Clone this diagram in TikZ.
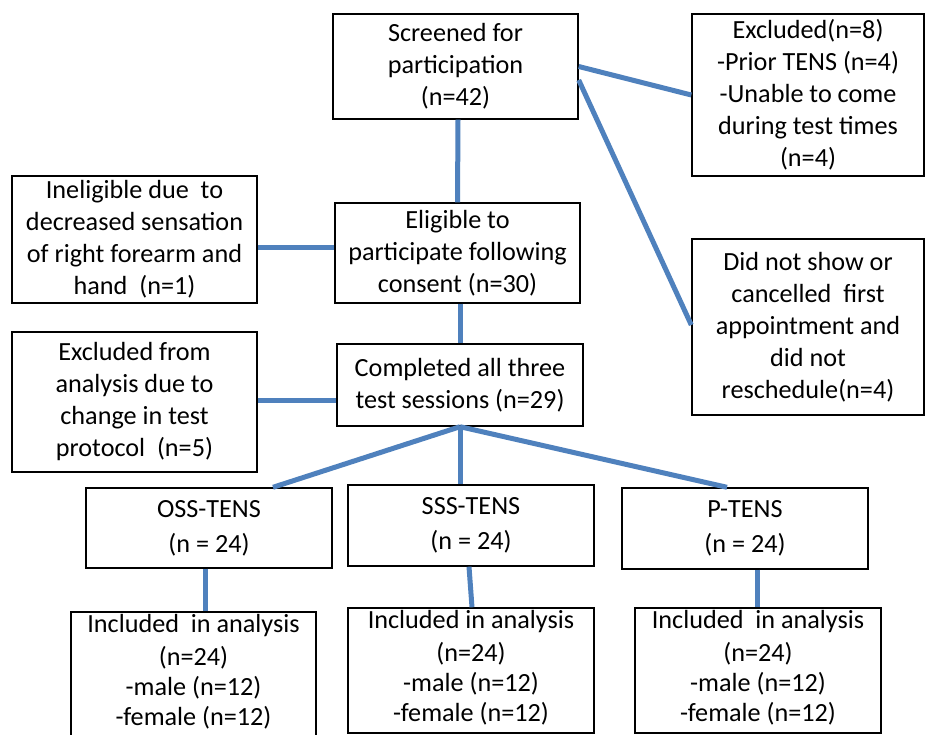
\documentclass[tikz,border=0pt]{standalone}
\usepackage{fontspec}
\setmainfont{Carlito}
\usetikzlibrary{calc}
\definecolor{linkblue}{RGB}{79,129,189}
\begin{document}
\begin{tikzpicture}[x=1pt,y=-1pt,
  box/.style={draw=black,line width=1.4pt,rectangle,inner sep=0pt,align=center,
    font=\fontsize{26.2}{32}\selectfont},
  inbox/.style={inner sep=0pt,align=center,anchor=north,
    font=\fontsize{26.2}{30}\selectfont},
  link/.style={draw=linkblue,line width=5pt}]
\useasboundingbox (0,0) rectangle (927,735);
\fill[white] (0,0) rectangle (927,735);

% upper flow
\node[box,minimum width=245pt,minimum height=105pt] (scr) at (455.5,66.5)
  {Screened for\\participation\\(n=42)};
\node[box,minimum width=232pt,minimum height=162pt] (exc) at (808,95)
  {Excluded(n=8)\\-Prior TENS (n=4)\\-Unable to come\\during test times\\(n=4)};
\node[box,minimum width=232pt,minimum height=176pt] (dns) at (808,327)
  {Did not show or\\cancelled\ \ first\\appointment and\\did not\\reschedule(n=4)};
\node[box,minimum width=245pt,minimum height=127pt] (inel) at (134.5,239.5)
  {Ineligible due\ \ to\\decreased sensation\\of right forearm and\\hand\ \ (n=1)};
\node[box,minimum width=245pt,minimum height=100pt] (elig) at (457.5,253)
  {Eligible to\\participate following\\consent (n=30)};
\node[box,minimum width=245pt,minimum height=140pt] (exan) at (134.5,402)
  {Excluded from\\analysis due to\\change in test\\protocol\ \ (n=5)};
\node[box,minimum width=246pt,minimum height=82pt] (comp) at (460,385)
  {Completed all three\\test sessions (n=29)};

% groups
\node[box,minimum width=246pt,minimum height=80pt] (oss) at (209,528)
  {OSS-TENS\\[3pt](n = 24)};
\node[box,minimum width=246pt,minimum height=81pt] (sss) at (471,525.5)
  {SSS-TENS\\[3pt](n = 24)};
\node[box,minimum width=246pt,minimum height=81pt] (pt) at (745,528.5)
  {P-TENS\\[3pt](n = 24)};

% analysis boxes (cut by the lower edge)
\node[box,minimum width=245pt,minimum height=133pt] (ossi) at (193.5,678.5) {};
\node[box,minimum width=246pt,minimum height=125pt] (sssi) at (471,670.5) {};
\node[box,minimum width=246pt,minimum height=125pt] (pti) at (758,670.5) {};
\node[inbox] (ossit) at (193.5,614)
  {Included\ \ in analysis\\[3pt](n=24)\\-male (n=12)\\-female (n=12)};
\node[inbox] (sssit) at (471,610)
  {Included in analysis\\[3pt](n=24)\\-male (n=12)\\-female (n=12)};
\node[inbox] (ptit) at (758,610)
  {Included\ \ in analysis\\[3pt](n=24)\\-male (n=12)\\-female (n=12)};

% connectors
\draw[link] ([xshift=2.5pt]scr.south) -- (elig.north);
\draw[link] (scr.east) -- (exc.west);
\draw[link] ([yshift=-13.5pt]scr.east) -- ([yshift=2pt]dns.west);
\draw[link] ([yshift=-8.5pt]inel.east) -- ([yshift=5pt]elig.west);
\draw[link] ([xshift=2.5pt]elig.south) -- (comp.north);
\draw[link] ([yshift=1pt]exan.east) -- ([yshift=-16pt]comp.west);
\draw[link] (comp.south) -- ([xshift=64pt]oss.north);
\draw[link] (comp.south) -- ([xshift=-11pt]sss.north);
\draw[link] (comp.south) -- ([xshift=-18pt]pt.north);
\draw[link] ([xshift=-4pt]oss.south) -- ([xshift=11.5pt]ossi.north);
\draw[link] ([xshift=-2pt]sss.south) -- ([xshift=1pt]sssi.north);
\draw[link] ([xshift=12pt]pt.south) -- ([xshift=-1pt]pti.north);
\end{tikzpicture}
\end{document}
